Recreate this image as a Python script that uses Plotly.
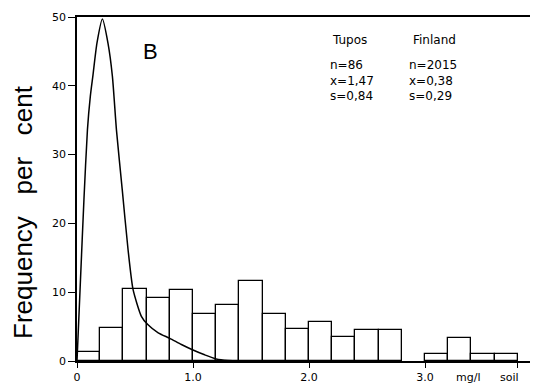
import plotly.graph_objects as go

# Histogram (Tupos), bins of width 0.2 mg/l
bin_centers = [0.1, 0.3, 0.5, 0.7, 0.9, 1.1, 1.3, 1.5, 1.7, 1.9, 2.1, 2.3, 2.5, 2.7, 3.1, 3.3, 3.5, 3.7]
bin_values = [1.3, 4.8, 10.4, 9.2, 10.3, 6.9, 8.1, 11.6, 6.9, 4.6, 5.65, 3.5, 4.5, 4.45, 1.0, 3.3, 1.0, 0.95]

# Finland distribution curve
curve_x = [0.0, 0.03, 0.06, 0.09, 0.115, 0.138, 0.172, 0.219, 0.267, 0.305, 0.34, 0.39, 0.44,
           0.483, 0.555, 0.61, 0.70, 0.80, 0.90, 1.0, 1.1, 1.2, 1.3, 1.45, 1.6]
curve_y = [0.0, 11.8, 23.5, 33.6, 38.5, 41.6, 46.2, 49.7, 46.2, 41.4, 33.6, 24.9, 16.2,
           10.4, 6.5, 5.3, 4.1, 3.3, 2.4, 1.6, 0.9, 0.3, 0.08, 0.02, 0.0]

x_tickvals = [0, 1, 2, 3, 3.8]
x_ticktext = ["0", "1.0", "2.0", "3.0", ""]
y_tickvals = [0, 10, 20, 30, 40, 50]

# page body has an 8px margin, so the figure is drawn 8px smaller and coordinates shifted
W, H = 530, 379
L, T, B = 69, 9, 26
x0, x1 = L, W
y0, y1 = T, H - B
px_per_unit = 116.0

fig = go.Figure()
fig.add_trace(go.Bar(
    x=bin_centers, y=bin_values, width=0.2,
    marker=dict(color="white", line=dict(color="black", width=1.3)),
    showlegend=False,
))
fig.add_trace(go.Scatter(
    x=curve_x, y=curve_y, mode="lines",
    line=dict(color="black", width=1.5, shape="spline", smoothing=0.6),
    showlegend=False,
))

fig.update_layout(
    width=W, height=H,
    margin=dict(l=L, r=0, t=T, b=B, autoexpand=False),
    paper_bgcolor="white", plot_bgcolor="white",
    font=dict(family="DejaVu Sans", color="black", size=11),
    xaxis=dict(
        range=[0, (x1 - x0) / px_per_unit], tickvals=x_tickvals, ticktext=x_ticktext,
        showgrid=False, zeroline=False, showline=True, linecolor="black", linewidth=1.5,
        mirror=True, ticks="outside", ticklen=5, tickcolor="black",
        tickfont=dict(size=11),
    ),
    yaxis=dict(
        range=[0, 50], tickvals=y_tickvals,
        showgrid=False, zeroline=False, showline=True, linecolor="black", linewidth=1.5,
        ticks="outside", ticklen=7, tickcolor="black",
        tickfont=dict(size=11),
    ),
    bargap=0,
)

# positions given in page pixels (reference), converted to figure/paper coords
annotations = [
    dict(text="B", x=150, y=52, font=dict(size=22, family="Liberation Sans")),
    dict(text="Tupos", x=349, y=40, font=dict(size=12)),
    dict(text="Finland", x=434, y=40, font=dict(size=12)),
    dict(text="n=86<br>x=1,47<br>s=0,84", x=352, y=80, align="left", font=dict(size=12)),
    dict(text="n=2015<br>x=0,38<br>s=0,29", x=433, y=80, align="left", font=dict(size=12)),
    dict(text="mg/l", x=468, y=377, font=dict(size=11)),
    dict(text="soil", x=509, y=377, font=dict(size=11)),
]
for a in annotations:
    fx, fy = a["x"] - 8, a["y"] - 8
    fig.add_annotation(
        text=a["text"], x=(fx - x0) / (x1 - x0), y=(y1 - fy) / (y1 - y0),
        xref="paper", yref="paper", showarrow=False,
        xanchor="center", yanchor="middle", align=a.get("align", "center"),
        font=dict(color="black", **a["font"]),
    )
fig.add_annotation(
    text="Frequency   per   cent", x=(23 - 8 - x0) / (x1 - x0), y=(y1 - (212 - 8)) / (y1 - y0),
    xref="paper", yref="paper", showarrow=False, textangle=-90,
    xanchor="center", yanchor="middle",
    font=dict(color="black", size=26, family="Liberation Sans"),
)

fig.write_html("out.html")
